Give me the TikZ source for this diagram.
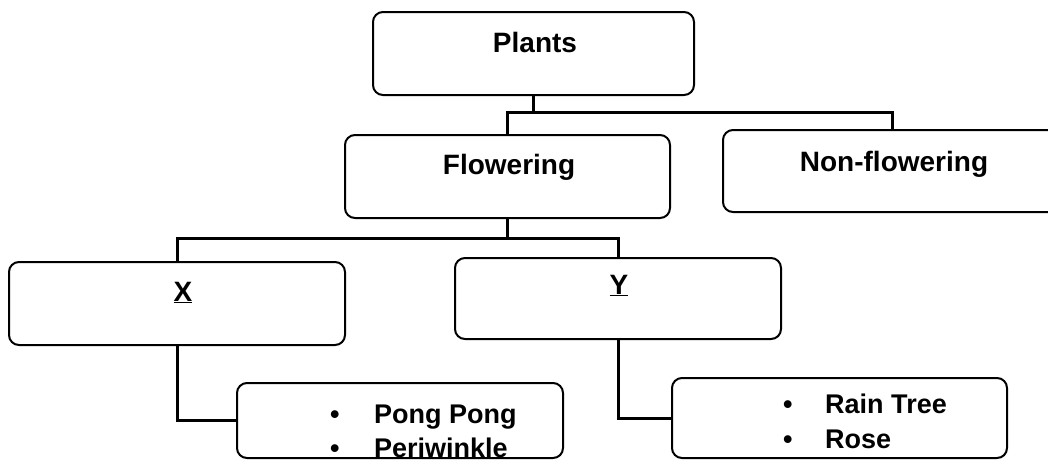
\documentclass[tikz,border=0pt]{standalone}
\usepackage{fontspec}
\setmainfont{Liberation Sans}
\begin{document}
\begin{tikzpicture}[x=1pt,y=-1pt,
  box/.style={draw=black, line width=2pt, rounded corners=10pt, inner sep=0pt, minimum width=#1},
  conn/.style={draw=black, line width=3pt},
  lbl/.style={inner sep=0pt, anchor=base, font=\fontsize{28}{34}\selectfont\bfseries},
  item/.style={inner sep=0pt, anchor=base west, font=\fontsize{27}{34}\selectfont\bfseries}]
\useasboundingbox (0,0) rectangle (1048,461);
\clip (0,0) rectangle (1048,461);
% boxes
\node[box=321pt, minimum height=83pt] (plants) at (533.5,53.5) {};
\node[box=325pt, minimum height=83pt] (flowering) at (507.5,176.5) {};
\node[box=338pt, minimum height=82pt] (nonflow) at (892,171) {};
\node[box=336pt, minimum height=83pt] (X) at (177,303.5) {};
\node[box=326pt, minimum height=81pt] (Y) at (618,298.5) {};
\node[box=326pt, minimum height=75pt] (pong) at (400,420.5) {};
\node[box=335pt, minimum height=80pt] (rain) at (839.5,418) {};
% labels
\node[lbl] (plantsT) at (535,52) {Plants};
\node[lbl] (floweringT) at (509,174) {Flowering};
\node[lbl] (nonflowT) at (894,171) {Non-flowering};
\node[lbl] (XT) at (183,301) {\underline{X}};
\node[lbl] (YT) at (619,294) {\underline{Y}};
\node[item] (pong1) at (330,423) {\makebox[44pt][l]{•}Pong Pong};
\node[item] (pong2) at (330,457) {\makebox[44pt][l]{•}Periwinkle};
\node[item] (rain1) at (783,413) {\makebox[42pt][l]{•}Rain Tree};
\node[item] (rain2) at (783,448) {\makebox[42pt][l]{•}Rose};
% connectors
\coordinate (b1) at (533.5,112);
\coordinate (b2) at (507.5,238);
\draw[conn] (plants.south) -- (b1);
\draw[conn] (flowering.north) |- (b1) -| (nonflow.north);
\draw[conn] (flowering.south) -- (b2);
\draw[conn] (X.north) |- (b2) -| (Y.north);
\draw[conn] (X.south) |- (pong.west);
\draw[conn] (Y.south) |- (rain.west);
\end{tikzpicture}
\end{document}
